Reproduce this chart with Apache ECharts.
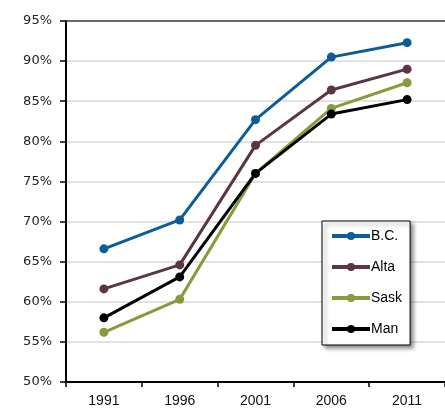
<!DOCTYPE html>
<html><head><meta charset="utf-8">
<script src="https://cdn.jsdelivr.net/npm/echarts@6/dist/echarts.min.js"></script>
<style>html,body{margin:0;padding:0;background:#fff}#c{width:445px;height:408px}</style>
</head><body><div id="c"></div>
<script>
const years = ['1991','1996','2001','2006','2011'];
const bc   = [66.6, 70.2, 82.7, 90.5, 92.3];
const alta = [61.6, 64.6, 79.5, 86.4, 89.0];
const sask = [56.2, 60.3, 76.0, 84.1, 87.3];
const man  = [58.0, 63.1, 76.0, 83.4, 85.2];
const names = ['B.C.','Alta','Sask','Man'];
const colors = ['#0b5c98','#5b3541','#8a9a3a','#000000'];
const yTicks = [50,55,60,65,70,75,80,85,90,95];

const chart = echarts.init(document.getElementById('c'), null, {renderer:'canvas'});
const mk = (name, data, color) => ({
  name, type:'line', data, symbol:'circle', symbolSize:9,
  lineStyle:{color, width:3}, itemStyle:{color}, animation:false
});
chart.setOption({
  animation:false,
  grid:{left:66, top:21, width:380, height:363},
  legend:{
    orient:'vertical', left:322, top:221,
    data:names,
    itemWidth:38, itemHeight:10, itemGap:17,
    padding:[8,8,9,8],
    backgroundColor:'#fff', borderColor:'#000', borderWidth:1,
    shadowColor:'rgba(0,0,0,0.45)', shadowBlur:4, shadowOffsetX:3, shadowOffsetY:3,
    lineStyle:{width:4},
    textStyle:{fontFamily:'Liberation Sans', fontSize:14, color:'#000', padding:[0,0,0,-4]}
  },
  xAxis:[{
    type:'category', data:years, boundaryGap:true,
    axisLine:{lineStyle:{color:'#000', width:2}},
    axisTick:{show:true, length:5, lineStyle:{color:'#000', width:1.5}},
    axisLabel:{fontFamily:'Liberation Sans', fontSize:14, color:'#111', margin:12},
    splitLine:{show:false}
  },{
    type:'category', data:years, position:'top',
    axisLine:{lineStyle:{color:'#404040', width:1.5}},
    axisTick:{show:false}, axisLabel:{show:false}
  }],
  yAxis:{
    type:'value', min:50, max:95, interval:5,
    axisLine:{show:true, lineStyle:{color:'#000', width:2}},
    axisTick:{show:true, length:6, lineStyle:{color:'#000', width:1.5}},
    axisLabel:{fontFamily:'DejaVu Sans', fontSize:13, color:'#222', margin:14,
      formatter:v => yTicks.includes(v) ? v + '%' : ''},
    splitLine:{show:true, lineStyle:{color:'#d9d9d9', width:1.5}}
  },
  series:[mk(names[0], bc, colors[0]), mk(names[1], alta, colors[1]), mk(names[2], sask, colors[2]), mk(names[3], man, colors[3])]
});
</script></body></html>
